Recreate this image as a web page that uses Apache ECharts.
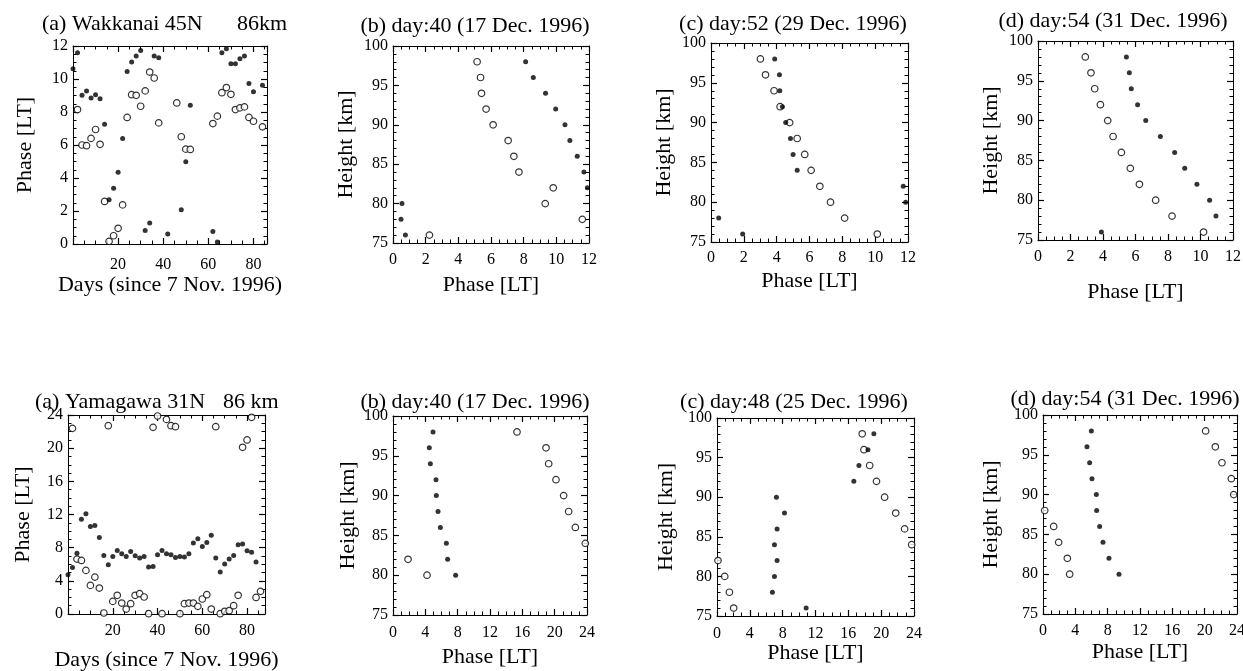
<!DOCTYPE html>
<html>
<head>
<meta charset="utf-8">
<script src="https://cdn.jsdelivr.net/npm/echarts@6/dist/echarts.min.js"></script>
<style>
    html, body { margin: 0; padding: 0; background: #fff; }
    #JS_PhaseChart { width: 1243px; height: 671px; }
</style>
</head>
<body>
<div id="JS_PhaseChart"></div>
<script>
const FONT = 'Liberation Serif';

// Wakkanai, phase vs day (filled / open)
const wkDaysF = [0, 2, 4, 6, 8, 10, 12, 14, 16, 18, 20, 22, 24, 26, 28, 30, 32, 34, 36, 38, 42, 48, 50, 52, 62, 64, 66, 68, 70, 72, 74, 76, 78, 80, 84];
const wkPhaseF = [10.62, 11.59, 9.01, 9.28, 8.85, 9.05, 8.81, 7.26, 2.68, 3.38, 4.35, 6.40, 10.46, 11.03, 11.39, 11.73, 0.82, 1.27, 11.39, 11.29, 0.6, 2.07, 4.99, 8.41, 0.76, 0.12, 11.59, 11.83, 10.93, 10.93, 11.23, 11.39, 9.72, 9.22, 9.62];
const wkDaysO = [2, 4, 6, 8, 10, 12, 14, 16, 18, 20, 22, 24, 26, 28, 30, 32, 34, 36, 38, 46, 48, 50, 52, 62, 64, 66, 68, 70, 72, 74, 76, 78, 80, 84];
const wkPhaseO = [8.15, 6.0, 5.96, 6.4, 6.94, 6.04, 2.58, 0.16, 0.5, 0.95, 2.37, 7.67, 9.05, 9.01, 8.35, 9.28, 10.42, 10.06, 7.34, 8.55, 6.5, 5.75, 5.73, 7.30, 7.75, 9.17, 9.48, 9.07, 8.15, 8.25, 8.31, 7.67, 7.44, 7.10];

// Yamagawa, phase vs day
const ymDaysF = [0, 2, 4, 6, 8, 10, 12, 14, 16, 18, 20, 22, 24, 26, 28, 30, 32, 34, 36, 38, 40, 42, 44, 46, 48, 50, 52, 54, 56, 58, 60, 62, 64, 66, 68, 70, 72, 74, 76, 78, 80, 82, 84];
const ymPhaseF = [4.73, 5.62, 7.34, 11.44, 12.08, 10.55, 10.67, 9.23, 7.06, 5.94, 6.94, 7.66, 7.26, 6.94, 7.54, 7.02, 6.74, 6.94, 5.66, 5.74, 7.14, 7.66, 7.26, 7.14, 6.82, 6.94, 6.86, 7.26, 8.55, 9.07, 8.15, 8.63, 9.51, 6.74, 5.06, 6.02, 6.62, 7.06, 8.35, 8.43, 7.62, 7.46, 6.26];
const ymDaysO = [2, 4, 6, 8, 10, 12, 14, 16, 18, 20, 22, 24, 26, 28, 30, 32, 34, 36, 38, 40, 42, 44, 46, 48, 50, 52, 54, 56, 58, 60, 62, 64, 66, 68, 70, 72, 74, 76, 78, 80, 82, 84, 86];
const ymPhaseO = [22.39, 6.62, 6.46, 5.26, 3.45, 4.45, 3.13, 0.12, 22.71, 1.52, 2.25, 1.32, 0.6, 1.24, 2.25, 2.45, 2.05, 0.04, 22.51, 23.88, 0.04, 23.47, 22.71, 22.59, 0.04, 1.24, 1.32, 1.32, 0.92, 1.81, 2.33, 0.6, 22.59, 0.04, 0.32, 0.4, 1.0, 2.25, 20.1, 20.99, 23.72, 2.0, 2.73];

// height profiles [km]
const heights12 = [98, 96, 94, 92, 90, 88, 86, 84, 82, 80, 78, 76];
const heights10 = [98, 96, 94, 92, 90, 88, 86, 84, 82, 80];

// Wakkanai profiles (phase LT), day 40 / 52 / 54
const wkB_F = [8.12, 8.59, 9.34, 9.96, 10.53, 10.83, 11.28, 11.69, 11.9, 0.55, 0.49, 0.76];
const wkB_O = [5.15, 5.36, 5.42, 5.70, 6.13, 7.05, 7.40, 7.71, 9.81, 9.32, 11.59, 2.23];
const wkC_F = [3.88, 4.17, 4.19, 4.35, 4.55, 4.84, 5.0, 5.25, 11.71, 11.86, 0.47, 1.93];
const wkC_O = [3.01, 3.32, 3.84, 4.21, 4.79, 5.25, 5.71, 6.10, 6.63, 7.28, 8.14, 10.13];
const wkD_F = [5.44, 5.62, 5.74, 6.13, 6.63, 7.53, 8.41, 9.03, 9.78, 10.56, 10.95, 3.90];
const wkD_O = [2.91, 3.26, 3.49, 3.84, 4.29, 4.62, 5.13, 5.68, 6.24, 7.24, 8.25, 10.19];

// Yamagawa profiles, day 40 / 48 / 54
const ymB_F = [4.95, 4.49, 4.62, 5.32, 5.36, 5.57, 5.86, 6.60, 6.76, 7.75];
const ymB_O = [15.34, 18.93, 19.26, 20.16, 21.11, 21.73, 22.56, 23.79, 1.86, 4.21];
const ymC_F = [19.11, 18.39, 17.29, 16.67, 7.24, 8.22, 7.32, 7.0, 7.32, 7.0, 6.75, 10.86];
const ymC_O = [17.69, 17.9, 18.6, 19.43, 20.42, 21.77, 22.86, 23.72, 0.12, 0.94, 1.51, 2.03];
const ymD_F = [5.98, 5.44, 5.77, 6.06, 6.60, 6.64, 7.01, 7.42, 8.16, 9.40];
const ymD_O = [20.12, 21.32, 22.14, 23.30, 23.59, 0.21, 1.32, 1.94, 3.01, 3.30];

const pairs = (xs, ys) => xs.map((x, i) => [x, ys[i]]);

const dayAxis = max => ({ min: 0, max, interval: 20, minor: 4, name: 'Days (since 7 Nov. 1996)', hideEnds: true });
const phase12 = { min: 0, max: 12, interval: 2, minor: 4, name: 'Phase [LT]' };
const phase24 = { min: 0, max: 24, interval: 4, minor: 4, name: 'Phase [LT]' };
const heightAxis = { min: 75, max: 100, interval: 5, minor: 5, name: 'Height [km]' };

const panels = [
    { grid: [73, 46, 194, 198], x: { ...dayAxis(86), gap: 30, margin: 13 }, y: { ...phase12, gap: 37 },
        filled: pairs(wkDaysF, wkPhaseF), open: pairs(wkDaysO, wkPhaseO) },
    { grid: [393, 46, 196, 197], x: { ...phase12, gap: 31, margin: 9 }, y: { ...heightAxis, gap: 36 },
        filled: pairs(wkB_F, heights12), open: pairs(wkB_O, heights12) },
    { grid: [711, 43, 197, 199], x: { ...phase12, gap: 28, margin: 8 }, y: { ...heightAxis, gap: 36 },
        filled: pairs(wkC_F, heights12), open: pairs(wkC_O, heights12) },
    { grid: [1038, 41, 195, 199], x: { ...phase12, gap: 41, margin: 9 }, y: { ...heightAxis, gap: 36 },
        filled: pairs(wkD_F, heights12), open: pairs(wkD_O, heights12) },
    { grid: [68, 415, 197, 199], x: { ...dayAxis(88), gap: 35, margin: 9 }, y: { ...phase24, gap: 34 },
        filled: pairs(ymDaysF, ymPhaseF), open: pairs(ymDaysO, ymPhaseO) },
    { grid: [393, 416, 194, 199], x: { ...phase24, gap: 31, margin: 10 }, y: { ...heightAxis, gap: 34 },
        filled: pairs(ymB_F, heights10), open: pairs(ymB_O, heights10) },
    { grid: [717, 418, 197, 198], x: { ...phase24, gap: 26, margin: 10 }, y: { ...heightAxis, gap: 40 },
        filled: pairs(ymC_F, heights12), open: pairs(ymC_O, heights12) },
    { grid: [1043, 415, 194, 199], x: { ...phase24, gap: 27, margin: 9 }, y: { ...heightAxis, gap: 41 },
        filled: pairs(ymD_F, heights10), open: pairs(ymD_O, heights10) }
];

const titles = [
    { text: '(a) Wakkanai 45N', x: 42, y: 24, align: 'left' },
    { text: '86km', x: 237, y: 24, align: 'left' },
    { text: '(b) day:40 (17 Dec. 1996)', x: 475, y: 26, align: 'center' },
    { text: '(c) day:52 (29 Dec. 1996)', x: 793, y: 24, align: 'center' },
    { text: '(d) day:54 (31 Dec. 1996)', x: 1113, y: 21, align: 'center' },
    { text: '(a) Yamagawa 31N', x: 35, y: 402, align: 'left' },
    { text: '86 km', x: 223, y: 402, align: 'left' },
    { text: '(b) day:40 (17 Dec. 1996)', x: 475, y: 402, align: 'center' },
    { text: '(c) day:48 (25 Dec. 1996)', x: 794, y: 402, align: 'center' },
    { text: '(d) day:54 (31 Dec. 1996)', x: 1125, y: 399, align: 'center' }
];

// ticks point inward on all four sides of each box
const makeAxis = (a, gridIndex, position, main) => ({
    type: 'value',
    gridIndex,
    position,
    min: a.min,
    max: a.max,
    interval: a.interval,
    axisLine: { show: true, onZero: false, lineStyle: { color: '#000', width: 1 } },
    axisTick: { show: true, inside: true, length: 6, lineStyle: { color: '#000', width: 1.2 } },
    minorTick: { show: true, splitNumber: a.minor, length: 3.5, lineStyle: { color: '#000', width: 1 } },
    splitLine: { show: false },
    axisLabel: {
        show: main,
        color: '#000',
        fontFamily: FONT,
        fontSize: 16,
        margin: position === 'bottom' ? a.margin : 5,
        showMinLabel: !a.hideEnds,
        showMaxLabel: !a.hideEnds
    },
    name: main ? a.name : '',
    nameLocation: 'middle',
    nameGap: a.gap,
    nameMoveOverlap: false,
    nameTextStyle: { color: '#000', fontFamily: FONT, fontSize: 22 }
});

const grid = [];
const xAxis = [];
const yAxis = [];
const series = [];

panels.forEach((p, i) => {
    grid.push({
        left: p.grid[0], top: p.grid[1], width: p.grid[2], height: p.grid[3],
        outerBoundsMode: 'none'
    });
    xAxis.push(makeAxis(p.x, i, 'bottom', true), makeAxis(p.x, i, 'top', false));
    yAxis.push(makeAxis(p.y, i, 'left', true), makeAxis(p.y, i, 'right', false));
    series.push({
        type: 'scatter', xAxisIndex: 2 * i, yAxisIndex: 2 * i, data: p.open,
        symbol: 'circle', symbolSize: 6.5, clip: true, silent: true,
        itemStyle: { color: '#fff', borderColor: '#000', borderWidth: 1.2 }
    }, {
        type: 'scatter', xAxisIndex: 2 * i, yAxisIndex: 2 * i, data: p.filled,
        symbol: 'circle', symbolSize: 5, clip: true, silent: true,
        itemStyle: { color: '#000' }
    });
});

const chart = echarts.init(document.getElementById('JS_PhaseChart'));
chart.setOption({
    backgroundColor: '#fff',
    animation: false,
    grid,
    xAxis,
    yAxis,
    series,
    graphic: titles.map(t => ({
        type: 'text',
        x: t.x,
        y: t.y,
        style: {
            text: t.text,
            fill: '#000',
            font: '22px "' + FONT + '"',
            textAlign: t.align,
            textVerticalAlign: 'middle'
        }
    }))
});
</script>
</body>
</html>
